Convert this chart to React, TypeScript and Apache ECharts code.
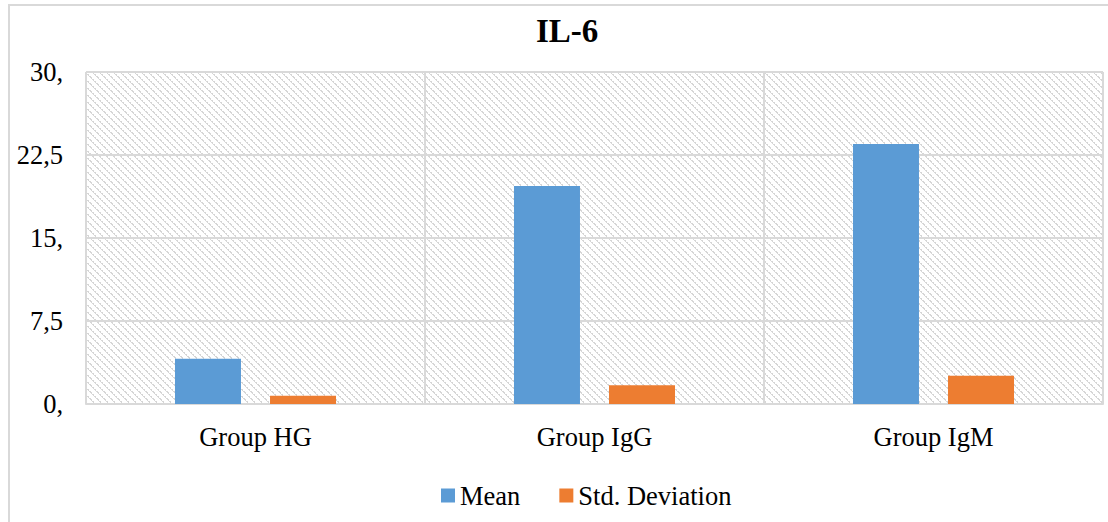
import React, { useEffect, useRef } from "react";
import * as echarts from "echarts";

const title = "IL-6";
const categories = ["Group HG", "Group IgG", "Group IgM"];
const meanValues = [4.1, 19.7, 23.5];
const stdValues = [0.75, 1.7, 2.55];
const yTicks = [0, 7.5, 15, 22.5, 30];
const yTickLabels = ["0,", "7,5", "15,", "22,5", "30,"];

const FONT = "'Liberation Serif', 'Times New Roman', serif";

export default function App() {
  const ref = useRef<HTMLDivElement>(null);
  useEffect(() => {
    if (!ref.current) return;
    const chart = echarts.init(ref.current, undefined, { renderer: "svg" });

    const cv = document.createElement("canvas");
    cv.width = 7;
    cv.height = 7;
    const ctx = cv.getContext("2d")!;
    ctx.fillStyle = "#ffffff";
    ctx.fillRect(0, 0, 7, 7);
    ctx.fillStyle = "#d6d6d6";
    for (let i = 0; i < 7; i++) {
      if (i % 2 === 0) ctx.fillRect(i, i, 1, 1);
      ctx.fillRect(i, (i + 1) % 7, 1, 1);
    }

    chart.setOption({
      animation: false,
      backgroundColor: "#ffffff",
      title: {
        text: title,
        left: 536,
        top: 14,
        padding: 0,
        textStyle: { fontFamily: FONT, fontSize: 33, fontWeight: "bold", color: "#000" },
      },
      graphic: [
        {
          type: "rect",
          shape: { x: 9, y: 5, width: 1130, height: 540 },
          style: { fill: "none", stroke: "#d9d9d9", lineWidth: 2 },
          silent: true,
          z: -1,
        },
      ],
      legend: {
        bottom: 13,
        left: 441,
        padding: 0,
        itemWidth: 14,
        itemHeight: 14,
        itemGap: 39,
        icon: "rect",
        textStyle: { fontFamily: FONT, fontSize: 26.5, color: "#000", padding: [0, 0, 0, 0] },
        data: ["Mean", "Std. Deviation"],
      },
      grid: {
        left: 86,
        right: 5,
        top: 72,
        bottom: 118,
        show: true,
        borderWidth: 0,
        backgroundColor: { image: cv, repeat: "repeat" } as any,
      },
      xAxis: {
        type: "category",
        data: categories,
        axisTick: { show: false },
        axisLine: { lineStyle: { color: "#d9d9d9", width: 2 } },
        axisLabel: { fontFamily: FONT, fontSize: 26.5, color: "#000", margin: 19 },
        splitLine: { show: true, lineStyle: { color: "#d9d9d9", width: 2 } },
      },
      yAxis: {
        type: "value",
        min: 0,
        max: 30,
        interval: 7.5,
        axisLine: { show: false },
        axisTick: { show: false },
        axisLabel: {
          fontFamily: FONT,
          fontSize: 26.5,
          color: "#000",
          margin: 23,
          formatter: (v: number) => {
            const i = yTicks.indexOf(v);
            return i >= 0 ? yTickLabels[i] : "";
          },
        },
        splitLine: { lineStyle: { color: "#d9d9d9", width: 2 } },
      },
      series: [
        {
          name: "Mean",
          type: "bar",
          data: meanValues,
          itemStyle: { color: "#5b9bd5" },
          barGap: "44%",
          barCategoryGap: "52.5%",
        },
        {
          name: "Std. Deviation",
          type: "bar",
          data: stdValues,
          itemStyle: { color: "#ed7d31" },
        },
      ],
    });
    return () => chart.dispose();
  }, []);
  return (
    <div
      ref={ref}
      style={{ position: "fixed", left: 0, top: 0, width: 1108, height: 522 }}
    />
  );
}
